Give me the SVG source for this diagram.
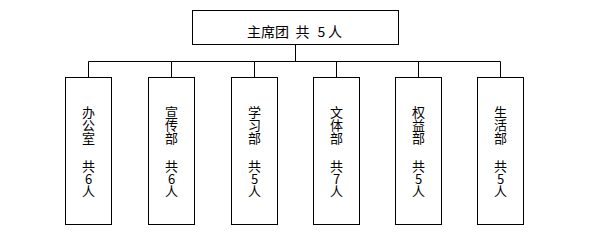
<svg xmlns="http://www.w3.org/2000/svg" width="590" height="236" viewBox="0 0 590 236">
<style>
.box{fill:#fff;stroke:#000;stroke-width:1}
.ln{fill:none;stroke:#000;stroke-width:1}
text{font-family:"Noto Sans CJK SC","Noto Sans",sans-serif;font-size:13px;fill:#000;text-anchor:middle}
.t{font-size:14px}
</style>
<rect width="590" height="236" fill="#fff"/>
<g id="connectors">
<path class="ln" d="M295.5 44.5V61.5M88.5 61.5H500.5M88.5 61.5V77.5M171.5 61.5V77.5M254.5 61.5V77.5M336.5 61.5V77.5M418.5 61.5V77.5M500.5 61.5V77.5"/>
</g>
<g id="top">
<rect class="box" x="192.5" y="10.5" width="206" height="34"/>
<text class="t" x="268" y="37">主席团</text>
<text class="t" x="302.5" y="37">共</text>
<text class="t" x="321.5" y="37">5</text>
<text class="t" x="335" y="37">人</text>
</g>
<g id="n1">
<rect class="box" x="65.5" y="77.5" width="46" height="147"/>
<text x="88.5" y="116.5">办</text><text x="88.5" y="129.5">公</text><text x="88.5" y="142.5">室</text>
<text x="88.5" y="171">共</text><text x="88.5" y="183.5">6</text><text x="88.5" y="196">人</text>
</g>
<g id="n2">
<rect class="box" x="148.5" y="77.5" width="46" height="147"/>
<text x="171.5" y="116.5">宣</text><text x="171.5" y="129.5">传</text><text x="171.5" y="142.5">部</text>
<text x="171.5" y="171">共</text><text x="171.5" y="183.5">6</text><text x="171.5" y="196">人</text>
</g>
<g id="n3">
<rect class="box" x="231.5" y="77.5" width="46" height="147"/>
<text x="254.5" y="116.5">学</text><text x="254.5" y="129.5">习</text><text x="254.5" y="142.5">部</text>
<text x="254.5" y="171">共</text><text x="254.5" y="183.5">5</text><text x="254.5" y="196">人</text>
</g>
<g id="n4">
<rect class="box" x="313.5" y="77.5" width="46" height="147"/>
<text x="336.5" y="116.5">文</text><text x="336.5" y="129.5">体</text><text x="336.5" y="142.5">部</text>
<text x="336.5" y="171">共</text><text x="336.5" y="183.5">7</text><text x="336.5" y="196">人</text>
</g>
<g id="n5">
<rect class="box" x="395.5" y="77.5" width="46" height="147"/>
<text x="418.5" y="116.5">权</text><text x="418.5" y="129.5">益</text><text x="418.5" y="142.5">部</text>
<text x="418.5" y="171">共</text><text x="418.5" y="183.5">5</text><text x="418.5" y="196">人</text>
</g>
<g id="n6">
<rect class="box" x="477.5" y="77.5" width="46" height="147"/>
<text x="500.5" y="116.5">生</text><text x="500.5" y="129.5">活</text><text x="500.5" y="142.5">部</text>
<text x="500.5" y="171">共</text><text x="500.5" y="183.5">5</text><text x="500.5" y="196">人</text>
</g>
</svg>
